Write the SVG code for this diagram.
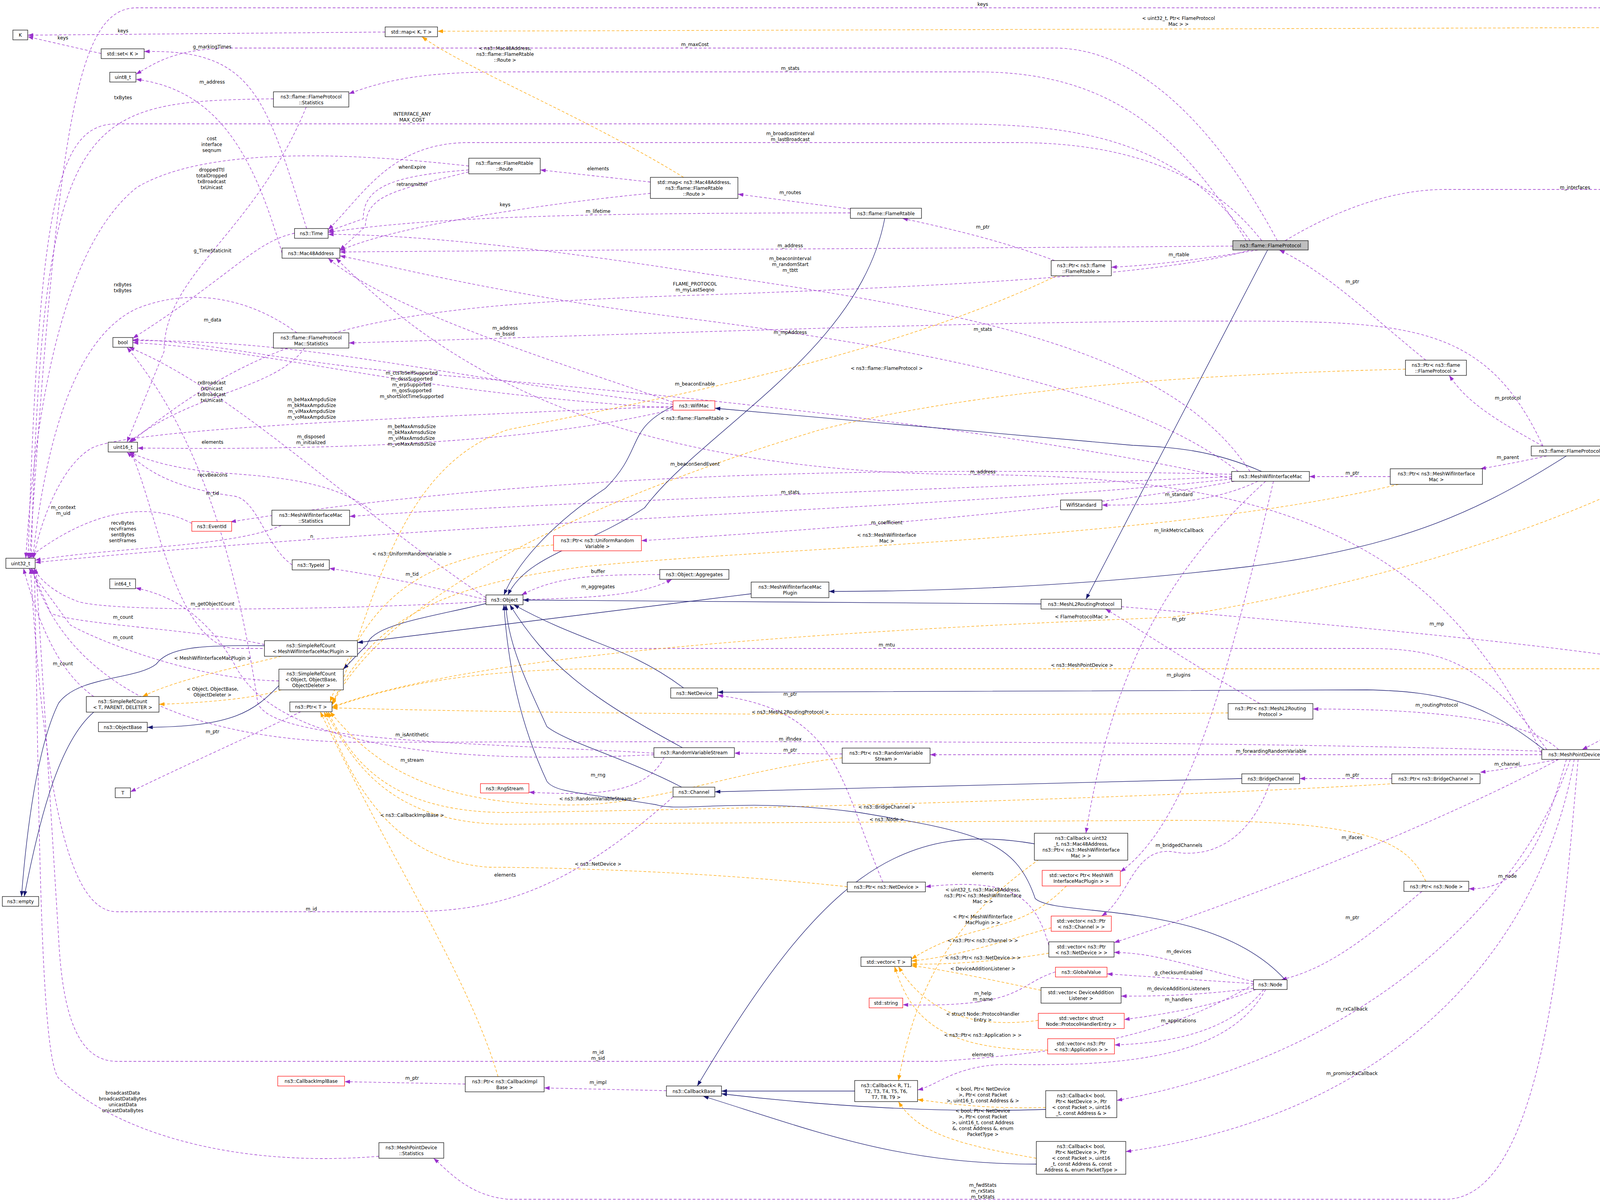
<svg xmlns="http://www.w3.org/2000/svg" width="4783" height="3077" viewBox="0 0 4783 3077">
<style>
text{font-family:"DejaVu Sans","Liberation Sans",sans-serif;font-size:12px;fill:#000}
.n rect{fill:#fff;stroke:#000;stroke-width:1.2}
.n.r rect{stroke:#ff0000}
.n text{text-anchor:middle}
.p{fill:none;stroke:#9a32cd;stroke-width:1.3;stroke-dasharray:7,5;marker-end:url(#ap)}
.o{fill:none;stroke:#ffa500;stroke-width:1.3;stroke-dasharray:7,5;marker-end:url(#ao)}
.v{fill:none;stroke:#191970;stroke-width:1.3;marker-end:url(#an)}
.l{text-anchor:middle}
</style>
<defs>
<marker id="ap" markerUnits="userSpaceOnUse" markerWidth="14" markerHeight="10" refX="14" refY="5" orient="auto"><path d="M0,0 L14,5 L0,10 z" fill="#9a32cd"/></marker>
<marker id="ao" markerUnits="userSpaceOnUse" markerWidth="14" markerHeight="10" refX="14" refY="5" orient="auto"><path d="M0,0 L14,5 L0,10 z" fill="#ffa500"/></marker>
<marker id="an" markerUnits="userSpaceOnUse" markerWidth="14" markerHeight="10" refX="14" refY="5" orient="auto"><path d="M0,0 L14,5 L0,10 z" fill="#191970"/></marker>
</defs>
<rect width="4783" height="3077" fill="#fff"/>
<g id="connectors">
<path class="p" d="M986,82 L71,90"/>
<path class="p" d="M259,137 L71,94"/>
<path class="p" d="M785,585 C680,250 650,125 369,132"/>
<path class="p" d="M722,648 C650,400 560,230 348,203"/>
<path class="p" d="M3270,616 C3100,300 2900,123 2700,123 L600,123 C450,123 400,160 348,190"/>
<path class="p" d="M700,253 C200,260 110,280 80,1429"/>
<path class="p" d="M3200,616 C3000,330 2700,317 2400,317 L300,317 C150,317 100,500 72,1429"/>
<path class="p" d="M1200,425 C800,380 500,390 350,480 C200,600 100,900 66,1429"/>
<path class="p" d="M784,274 C650,600 420,700 420,900 L325,1132"/>
<path class="p" d="M1200,435 C1000,450 930,480 930,560 L840,592"/>
<path class="p" d="M1200,440 C1000,490 940,500 935,580 L870,640"/>
<path class="p" d="M754,597 C650,620 600,700 340,866"/>
<path class="p" d="M760,852 C650,770 500,730 350,790 C200,860 120,1100 84,1429"/>
<path class="p" d="M1723,1035 C1100,960 800,870 340,872"/>
<path class="p" d="M1723,1045 C1000,1000 740,900 340,877"/>
<path class="p" d="M780,891 C700,1000 500,1000 330,1132"/>
<path class="p" d="M1723,1040 C1000,1070 300,1100 230,1150 C150,1200 100,1350 86,1429"/>
<path class="p" d="M1723,1048 C1300,1150 700,1150 352,1147"/>
<path class="p" d="M1244,1530 C900,1300 600,1000 330,889"/>
<path class="p" d="M950,1306 C850,1230 700,1220 560,1210 C450,1200 380,1180 330,1157"/>
<path class="p" d="M748,1446 C680,1400 660,1280 600,1270 C450,1250 380,1210 325,1157"/>
<path class="p" d="M491,1340 C400,1290 250,1290 72,1429"/>
<path class="p" d="M720,1345 C600,1400 300,1400 90,1434"/>
<path class="p" d="M3153,1226 C2500,1300 1200,1330 90,1440"/>
<path class="p" d="M1244,1540 C900,1560 300,1570 200,1540 C120,1510 95,1470 86,1455"/>
<path class="p" d="M677,1650 C500,1610 200,1600 130,1570 L80,1455"/>
<path class="p" d="M714,1743 C500,1740 250,1640 180,1600 L74,1455"/>
<path class="p" d="M240,1783 C150,1720 100,1600 60,1455"/>
<path class="p" d="M770,1822 C650,1880 450,1970 334,2027"/>
<path class="p" d="M1674,1928 C1200,1900 700,1900 660,1800 C600,1400 500,1100 325,889"/>
<path class="p" d="M1674,1932 C1100,1960 700,1900 600,1700 C520,1560 420,1520 347,1505"/>
<path class="p" d="M3153,1214 C2500,1200 1500,1190 590,1336"/>
<path class="p" d="M3153,1220 C2500,1250 1500,1280 895,1322"/>
<path class="p" d="M3160,1232 C2800,1300 2200,1350 1642,1384"/>
<path class="p" d="M1689,1471 C1500,1470 1420,1480 1335,1523"/>
<path class="p" d="M1339,1535 C1550,1530 1650,1520 1720,1483"/>
<path class="p" d="M3960,1919 C3800,1700 3700,1660 3500,1660 L600,1660 C450,1650 400,1300 335,1157"/>
<path class="p" d="M2260,2258 C2150,2000 2150,1820 1837,1780"/>
<path class="p" d="M3947,1923 C3000,1890 1500,1900 900,1900 C400,1890 150,1700 82,1455"/>
<path class="p" d="M2156,1930 L1880,1928"/>
<path class="p" d="M1700,1939 C1650,2040 1500,2035 1354,2028"/>
<path class="p" d="M1723,2040 C1400,2330 1200,2334 1000,2334 L300,2334 C200,2334 120,2150 78,1455"/>
<path class="p" d="M970,2960 C600,2990 300,2900 150,2760 C100,2700 100,2000 88,1455"/>
<path class="p" d="M1191,2775 L882,2769"/>
<path class="p" d="M1706,2792 L1393,2785"/>
<path class="p" d="M3209,2520 C3000,2640 2800,2690 2400,2717 L300,2717 C200,2717 160,2600 150,2400 L92,1455"/>
<path class="p" d="M3190,616 C3000,300 2800,184 2500,184 L1300,184 C1100,184 1000,200 893,240"/>
<path class="p" d="M3230,616 C3100,450 2900,365 2600,365 L1200,365 C1000,365 930,500 840,588"/>
<path class="p" d="M1665,466 L1383,435"/>
<path class="p" d="M2177,535 L1889,497"/>
<path class="p" d="M1665,495 C1400,520 1000,580 870,642"/>
<path class="p" d="M2177,545 C1500,545 1100,555 840,595"/>
<path class="p" d="M3156,630 C2500,635 1500,640 870,645"/>
<path class="p" d="M3200,1207 C3000,900 2500,800 1800,700 C1300,620 1000,600 840,600"/>
<path class="p" d="M3200,640 C3000,700 2500,730 1800,755 C1000,780 700,830 335,1132"/>
<path class="p" d="M1723,1030 C1500,950 1000,800 840,661"/>
<path class="p" d="M3170,1207 C2900,1000 2400,900 1800,820 C1300,760 1000,680 870,655"/>
<path class="p" d="M3153,1225 C2500,1080 1500,990 1000,950 C700,920 500,870 340,870"/>
<path class="p" d="M4620,190 C4500,40 4400,20 4200,20 L350,20 C200,20 150,300 76,1429"/>
<path class="p" d="M2700,667 C2600,630 2500,600 2310,559"/>
<path class="p" d="M3220,640 C3100,660 2950,680 2845,684"/>
<path class="p" d="M3650,922 C3500,800 3400,700 3275,640"/>
<path class="p" d="M3950,1142 C3800,820 3600,822 3100,822 C2500,822 1500,860 893,878"/>
<path class="p" d="M3290,616 C3500,490 3650,485 3700,485 L4350,485 C4450,485 4550,350 4655,231"/>
<path class="p" d="M4660,231 C4600,500 4450,1000 4350,1142"/>
<path class="p" d="M3950,1142 C3800,1060 3750,1020 3710,961"/>
<path class="p" d="M3220,1232 C3100,1290 2950,1293 2821,1293"/>
<path class="p" d="M3240,1232 C3000,1450 2850,1700 2780,2133"/>
<path class="p" d="M3225,1801 C3050,1700 2900,1600 2830,1559"/>
<path class="p" d="M3260,1232 C3150,1700 3050,2100 2868,2232"/>
<path class="p" d="M3947,1932 L2381,1932"/>
<path class="p" d="M3563,1993 L3327,1993"/>
<path class="p" d="M3559,1220 L3352,1220"/>
<path class="p" d="M4231,1155 L4140,1155"/>
<path class="p" d="M3960,1167 C3900,1180 3850,1190 3790,1200"/>
<path class="p" d="M2871,1553 C3300,1590 3900,1640 4250,1697"/>
<path class="p" d="M3990,1919 C3900,1830 3600,1815 3361,1815"/>
<path class="p" d="M4310,1732 C4250,1800 4150,1870 4050,1919"/>
<path class="p" d="M3990,1944 C3900,1960 3850,1970 3789,1977"/>
<path class="p" d="M3250,2006 C3200,2150 3100,2200 3000,2180 C2900,2170 2890,2300 2820,2345"/>
<path class="p" d="M3990,1944 C3700,2100 3200,2300 2852,2413"/>
<path class="p" d="M3640,2282 C3500,2400 3400,2480 3280,2508"/>
<path class="p" d="M3209,2513 C3000,2460 2950,2440 2852,2438"/>
<path class="p" d="M3209,2518 L2834,2493"/>
<path class="p" d="M3209,2530 C3050,2550 2950,2550 2870,2550"/>
<path class="p" d="M3215,2533 C3100,2580 2950,2600 2878,2610"/>
<path class="p" d="M3235,2533 C3150,2640 3000,2670 2853,2675"/>
<path class="p" d="M4020,1944 C3900,2300 3500,2700 2859,2817"/>
<path class="p" d="M4030,1944 C3950,2400 3600,2850 2882,2948"/>
<path class="p" d="M4040,1944 C4000,2400 3950,3070 3700,3070 L1300,3070 C1200,3060 1150,3000 1110,2965"/>
<path class="p" d="M4010,1944 C3950,2150 3900,2280 3760,2275"/>
<path class="p" d="M2702,2488 C2600,2520 2620,2580 2311,2572"/>
<path class="p" d="M2685,2420 C2650,2300 2600,2245 2369,2270"/>
<path class="p" d="M3240,2533 C3150,2700 2900,2730 2600,2725 C2450,2720 2400,2780 2349,2790"/>
<path class="p" d="M3947,1930 C3700,1400 3300,1220 2500,1215 C1500,1210 1100,900 860,661"/>
<path class="p" d="M1244,1535 C1100,1500 950,1470 843,1455"/>
<path class="o" d="M1750,454 C1500,300 1200,180 1080,94"/>
<path class="o" d="M4660,190 C4550,80 4450,70 4350,70 L1120,80"/>
<path class="o" d="M2705,706 C2300,900 1800,1000 1300,1100 C1000,1200 950,1600 850,1803"/>
<path class="o" d="M3598,945 C3000,960 2500,1000 2100,1100 C1600,1250 1000,1500 850,1805"/>
<path class="o" d="M1417,1395 C1100,1420 950,1500 845,1797"/>
<path class="o" d="M3580,1240 C3000,1380 2000,1400 1500,1450 C1100,1500 950,1600 850,1800"/>
<path class="o" d="M4320,1167 C4000,1350 3500,1500 3000,1580 C2000,1620 1200,1680 850,1810"/>
<path class="o" d="M4250,1712 L1500,1712 C1100,1720 950,1780 850,1810"/>
<path class="o" d="M3144,1825 C2500,1833 1500,1830 850,1812"/>
<path class="o" d="M2156,1940 C1900,1970 1700,2050 1500,2060 C1100,2070 950,1950 845,1822"/>
<path class="o" d="M3570,2006 C3000,2040 2000,2070 1300,2080 C1000,2080 900,1950 840,1822"/>
<path class="o" d="M3650,2256 C3600,2150 3500,2100 3000,2100 L1300,2110 C1000,2110 900,1950 835,1822"/>
<path class="o" d="M2169,2270 C1800,2230 1400,2220 1250,2220 C1000,2200 900,2000 830,1822"/>
<path class="o" d="M1275,2756 C1200,2500 1000,2200 820,1822"/>
<path class="o" d="M720,1680 C600,1710 450,1740 365,1783"/>
<path class="o" d="M720,1766 C650,1790 500,1800 407,1803"/>
<path class="o" d="M2730,2268 C2600,2400 2500,2350 2333,2455"/>
<path class="o" d="M2691,2375 C2600,2400 2450,2450 2333,2460"/>
<path class="o" d="M2685,2440 C2600,2455 2450,2470 2333,2468"/>
<path class="o" d="M2665,2535 C2500,2500 2400,2480 2333,2472"/>
<path class="o" d="M2658,2612 C2450,2640 2350,2560 2300,2474"/>
<path class="o" d="M2682,2688 C2400,2690 2330,2600 2290,2474"/>
<path class="o" d="M2660,2200 C2450,2350 2350,2500 2300,2766"/>
<path class="o" d="M2677,2835 C2500,2840 2400,2820 2349,2815"/>
<path class="o" d="M2653,2965 C2450,2930 2350,2900 2300,2820"/>
<path class="v" d="M2265,559 C2200,900 1800,1100 1650,1300 C1500,1400 1350,1420 1300,1523"/>
<path class="v" d="M1723,1040 C1600,1100 1650,1150 1550,1250 C1400,1350 1320,1450 1290,1523"/>
<path class="v" d="M3230,1207 C3100,1150 3000,1145 2900,1140 L1830,1045"/>
<path class="v" d="M2665,1546 L1339,1536"/>
<path class="v" d="M3245,640 L2780,1534"/>
<path class="v" d="M4010,1167 C3800,1300 3600,1400 3200,1450 C2700,1510 2300,1514 2122,1514"/>
<path class="v" d="M1923,1520 L915,1645"/>
<path class="v" d="M1244,1545 C1100,1580 950,1600 940,1650 L879,1713"/>
<path class="v" d="M714,1755 C650,1820 600,1860 377,1862"/>
<path class="v" d="M677,1653 C500,1650 430,1660 400,1700 C350,1740 200,1730 150,1800 C100,1900 70,2100 55,2295"/>
<path class="v" d="M240,1823 C150,1900 100,2100 62,2295"/>
<path class="v" d="M1750,1761 C1600,1650 1500,1650 1315,1548"/>
<path class="v" d="M3953,1919 C3800,1800 3700,1770 3500,1766 L1837,1772"/>
<path class="v" d="M1747,1914 C1500,1780 1400,1700 1305,1548"/>
<path class="v" d="M1745,2015 C1600,1940 1450,1900 1400,1860 C1350,1750 1300,1650 1295,1548"/>
<path class="v" d="M3290,2508 C3100,2300 2700,2350 2650,2300 C2600,2150 2500,2130 2200,2080 C1900,2040 1750,2080 1680,2060 C1500,2030 1420,2030 1400,2000 C1330,1850 1300,1700 1290,1548"/>
<path class="v" d="M3179,1993 L1830,2027"/>
<path class="v" d="M2648,2160 C2300,2100 2100,2250 1785,2780"/>
<path class="v" d="M2188,2793 L1847,2793"/>
<path class="v" d="M2677,2840 C2400,2850 2100,2830 1847,2800"/>
<path class="v" d="M2653,2980 C2300,2980 2100,2900 1800,2806"/>
</g>
<g id="labels">
<text class="l" x="315" y="83">keys</text>
<text class="l" x="161" y="101">keys</text>
<text class="l" x="543" y="124">g_markingTimes</text>
<text class="l" x="543" y="214">m_address</text>
<text class="l" x="1779" y="118">m_maxCost</text>
<text class="l" x="315" y="254">txBytes</text>
<text class="l" x="1055" y="296">INTERFACE_ANY<tspan x="1055" dy="15">MAX_COST</tspan></text>
<text class="l" x="542" y="359">cost<tspan x="542" dy="15">interface</tspan><tspan x="542" dy="15">seqnum</tspan></text>
<text class="l" x="542" y="439">droppedTtl<tspan x="542" dy="15">totalDropped</tspan><tspan x="542" dy="15">txBroadcast</tspan><tspan x="542" dy="15">txUnicast</tspan></text>
<text class="l" x="1055" y="432">whenExpire</text>
<text class="l" x="1055" y="476">retransmitter</text>
<text class="l" x="544" y="646">g_TimeStaticInit</text>
<text class="l" x="314" y="733">rxBytes<tspan x="314" dy="15">txBytes</tspan></text>
<text class="l" x="544" y="823">m_data</text>
<text class="l" x="1054" y="959">m_ctsToSelfSupported<tspan x="1054" dy="15">m_dsssSupported</tspan><tspan x="1054" dy="15">m_erpSupported</tspan><tspan x="1054" dy="15">m_qosSupported</tspan><tspan x="1054" dy="15">m_shortSlotTimeSupported</tspan></text>
<text class="l" x="542" y="984">rxBroadcast<tspan x="542" dy="15">rxUnicast</tspan><tspan x="542" dy="15">txBroadcast</tspan><tspan x="542" dy="15">txUnicast</tspan></text>
<text class="l" x="798" y="1027">m_beMaxAmpduSize<tspan x="798" dy="15">m_bkMaxAmpduSize</tspan><tspan x="798" dy="15">m_viMaxAmpduSize</tspan><tspan x="798" dy="15">m_voMaxAmpduSize</tspan></text>
<text class="l" x="1054" y="1096">m_beMaxAmsduSize<tspan x="1054" dy="15">m_bkMaxAmsduSize</tspan><tspan x="1054" dy="15">m_viMaxAmsduSize</tspan><tspan x="1054" dy="15">m_voMaxAmsduSize</tspan></text>
<text class="l" x="796" y="1122">m_disposed<tspan x="796" dy="15">m_initialized</tspan></text>
<text class="l" x="544" y="1136">elements</text>
<text class="l" x="544" y="1220">recvBeacons</text>
<text class="l" x="544" y="1267">m_tid</text>
<text class="l" x="162" y="1303">m_context<tspan x="162" dy="15">m_uid</tspan></text>
<text class="l" x="314" y="1343">recvBytes<tspan x="314" dy="15">recvFrames</tspan><tspan x="314" dy="15">sentBytes</tspan><tspan x="314" dy="15">sentFrames</tspan></text>
<text class="l" x="798" y="1377">n</text>
<text class="l" x="1055" y="1422">&lt; ns3::UniformRandomVariable &gt;</text>
<text class="l" x="1055" y="1474">m_tid</text>
<text class="l" x="544" y="1550">m_getObjectCount</text>
<text class="l" x="315" y="1584">m_count</text>
<text class="l" x="315" y="1636">m_count</text>
<text class="l" x="161" y="1703">m_count</text>
<text class="l" x="544" y="1689">&lt; MeshWifiInterfaceMacPlugin &gt;</text>
<text class="l" x="544" y="1768">&lt; Object, ObjectBase,<tspan x="544" dy="15">ObjectDeleter &gt;</tspan></text>
<text class="l" x="544" y="1877">m_ptr</text>
<text class="l" x="1055" y="1885">m_isAntithetic</text>
<text class="l" x="1055" y="1950">m_stream</text>
<text class="l" x="1779" y="1075">&lt; ns3::flame::FlameRtable &gt;</text>
<text class="l" x="1779" y="1192">m_beaconSendEvent</text>
<text class="l" x="2023" y="1264">m_stats</text>
<text class="l" x="2270" y="1342">m_coefficient</text>
<text class="l" x="2270" y="1374">&lt; ns3::MeshWifiInterface<tspan x="2270" dy="15">Mac &gt;</tspan></text>
<text class="l" x="1531" y="1467">buffer</text>
<text class="l" x="1531" y="1506">m_aggregates</text>
<text class="l" x="2270" y="1655">m_mtu</text>
<text class="l" x="2023" y="1781">m_ptr</text>
<text class="l" x="2023" y="1827">&lt; ns3::MeshL2RoutingProtocol &gt;</text>
<text class="l" x="2023" y="1896">m_ifIndex</text>
<text class="l" x="2023" y="1924">m_ptr</text>
<text class="l" x="1531" y="1988">m_rng</text>
<text class="l" x="1531" y="2049">&lt; ns3::RandomVariableStream &gt;</text>
<text class="l" x="1293" y="128">&lt; ns3::Mac48Address,<tspan x="1293" dy="15">ns3::flame::FlameRtable</tspan><tspan x="1293" dy="15">::Route &gt;</tspan></text>
<text class="l" x="2023" y="179">m_stats</text>
<text class="l" x="2023" y="346">m_broadcastInterval<tspan x="2023" dy="15">m_lastBroadcast</tspan></text>
<text class="l" x="1531" y="436">elements</text>
<text class="l" x="2023" y="497">m_routes</text>
<text class="l" x="1293" y="528">keys</text>
<text class="l" x="1531" y="545">m_lifetime</text>
<text class="l" x="2023" y="633">m_address</text>
<text class="l" x="2023" y="666">m_beaconInterval<tspan x="2023" dy="15">m_randomStart</tspan><tspan x="2023" dy="15">m_tbtt</tspan></text>
<text class="l" x="1779" y="731">FLAME_PROTOCOL<tspan x="1779" dy="15">m_myLastSeqno</tspan></text>
<text class="l" x="1293" y="844">m_address<tspan x="1293" dy="15">m_bssid</tspan></text>
<text class="l" x="2023" y="855">m_mpAddress</text>
<text class="l" x="2270" y="947">&lt; ns3::flame::FlameProtocol &gt;</text>
<text class="l" x="1779" y="987">m_beaconEnable</text>
<text class="l" x="2516" y="15">keys</text>
<text class="l" x="3017" y="51">&lt; uint32_t, Ptr&lt; FlameProtocol<tspan x="3017" dy="15">Mac &gt; &gt;</tspan></text>
<text class="l" x="2516" y="585">m_ptr</text>
<text class="l" x="3018" y="656">m_rtable</text>
<text class="l" x="3462" y="725">m_ptr</text>
<text class="l" x="2516" y="847">m_stats</text>
<text class="l" x="4032" y="484">m_interfaces</text>
<text class="l" x="4511" y="595">elements</text>
<text class="l" x="3860" y="1023">m_protocol</text>
<text class="l" x="2516" y="1212">m_address</text>
<text class="l" x="3018" y="1270">m_standard</text>
<text class="l" x="3018" y="1362">m_linkMetricCallback</text>
<text class="l" x="2769" y="1583">&lt; FlameProtocolMac &gt;</text>
<text class="l" x="3018" y="1589">m_ptr</text>
<text class="l" x="2770" y="1707">&lt; ns3::MeshPointDevice &gt;</text>
<text class="l" x="3017" y="1732">m_plugins</text>
<text class="l" x="3254" y="1927">m_forwardingRandomVariable</text>
<text class="l" x="3462" y="1988">m_ptr</text>
<text class="l" x="3462" y="1215">m_ptr</text>
<text class="l" x="4187" y="1151">m_ptr</text>
<text class="l" x="3860" y="1175">m_parent</text>
<text class="l" x="3678" y="1601">m_mp</text>
<text class="l" x="3678" y="1809">m_routingProtocol</text>
<text class="l" x="4187" y="1804">m_ptr</text>
<text class="l" x="3858" y="1960">m_channel</text>
<text class="l" x="1055" y="2091">&lt; ns3::CallbackImplBase &gt;</text>
<text class="l" x="797" y="2331">m_id</text>
<text class="l" x="1055" y="2764">m_ptr</text>
<text class="l" x="314" y="2802">broadcastData<tspan x="314" dy="15">broadcastDataBytes</tspan><tspan x="314" dy="15">unicastData</tspan><tspan x="314" dy="15">unicastDataBytes</tspan></text>
<text class="l" x="2270" y="2070">&lt; ns3::BridgeChannel &gt;</text>
<text class="l" x="2270" y="2102">&lt; ns3::Node &gt;</text>
<text class="l" x="1531" y="2216">&lt; ns3::NetDevice &gt;</text>
<text class="l" x="1293" y="2244">elements</text>
<text class="l" x="1531" y="2698">m_id<tspan x="1531" dy="15">m_sid</tspan></text>
<text class="l" x="1531" y="2775">m_impl</text>
<text class="l" x="2516" y="2240">elements</text>
<text class="l" x="2516" y="2282">&lt; uint32_t, ns3::Mac48Address,<tspan x="2516" dy="15">ns3::Ptr&lt; ns3::MeshWifiInterface</tspan><tspan x="2516" dy="15">Mac &gt; &gt;</tspan></text>
<text class="l" x="3018" y="2168">m_bridgedChannels</text>
<text class="l" x="2516" y="2351">&lt; Ptr&lt; MeshWifiInterface<tspan x="2516" dy="15">MacPlugin &gt; &gt;</tspan></text>
<text class="l" x="3461" y="2148">m_ifaces</text>
<text class="l" x="2516" y="2412">&lt; ns3::Ptr&lt; ns3::Channel &gt; &gt;</text>
<text class="l" x="3462" y="2353">m_ptr</text>
<text class="l" x="2516" y="2456">&lt; ns3::Ptr&lt; ns3::NetDevice &gt; &gt;</text>
<text class="l" x="3018" y="2440">m_devices</text>
<text class="l" x="2516" y="2484">&lt; DeviceAdditionListener &gt;</text>
<text class="l" x="3017" y="2494">g_checksumEnabled</text>
<text class="l" x="3017" y="2535">m_deviceAdditionListeners</text>
<text class="l" x="2516" y="2547">m_help<tspan x="2516" dy="15">m_name</tspan></text>
<text class="l" x="3017" y="2563">m_handlers</text>
<text class="l" x="3461" y="2587">m_rxCallback</text>
<text class="l" x="2516" y="2600">&lt; struct Node::ProtocolHandler<tspan x="2516" dy="15">Entry &gt;</tspan></text>
<text class="l" x="3017" y="2617">m_applications</text>
<text class="l" x="2516" y="2654">&lt; ns3::Ptr&lt; ns3::Application &gt; &gt;</text>
<text class="l" x="2516" y="2704">elements</text>
<text class="l" x="2516" y="2792">&lt; bool, Ptr&lt; NetDevice<tspan x="2516" dy="15">&gt;, Ptr&lt; const Packet</tspan><tspan x="2516" dy="15">&gt;, uint16_t, const Address &amp; &gt;</tspan></text>
<text class="l" x="2516" y="2848">&lt; bool, Ptr&lt; NetDevice<tspan x="2516" dy="15">&gt;, Ptr&lt; const Packet</tspan><tspan x="2516" dy="15">&gt;, uint16_t, const Address</tspan><tspan x="2516" dy="15">&amp;, const Address &amp;, enum</tspan><tspan x="2516" dy="15">PacketType &gt;</tspan></text>
<text class="l" x="3461" y="2752">m_promiscRxCallback</text>
<text class="l" x="2516" y="3038">m_fwdStats<tspan x="2516" dy="15">m_rxStats</tspan><tspan x="2516" dy="15">m_txStats</tspan></text>
<text class="l" x="3859" y="2247">m_node</text>
</g>
<g id="K" class="n"><rect x="33" y="77" width="38" height="25"/><text x="52" y="94">K</text></g>
<g id="set" class="n"><rect x="259" y="125" width="110" height="25"/><text x="314" y="142">std::set&lt; K &gt;</text></g>
<g id="uint8" class="n"><rect x="281" y="185" width="67" height="25"/><text x="314.5" y="202">uint8_t</text></g>
<g id="mapKT" class="n"><rect x="986" y="69" width="134" height="25"/><text x="1053" y="86">std::map&lt; K, T &gt;</text></g>
<g id="FPStats" class="n"><rect x="700" y="235" width="193" height="39"/><text x="796.5" y="251.5">ns3::flame::FlameProtocol<tspan x="796.5" dy="15">::Statistics</tspan></text></g>
<g id="Time" class="n"><rect x="754" y="585" width="86" height="25"/><text x="797" y="602">ns3::Time</text></g>
<g id="Mac48" class="n"><rect x="722" y="635" width="148" height="26"/><text x="796" y="652.5">ns3::Mac48Address</text></g>
<g id="bool" class="n"><rect x="289" y="864" width="51" height="25"/><text x="314.5" y="881">bool</text></g>
<g id="FPMStats" class="n"><rect x="700" y="852" width="193" height="39"/><text x="796.5" y="868.5">ns3::flame::FlameProtocol<tspan x="796.5" dy="15">Mac::Statistics</tspan></text></g>
<g id="Route" class="n"><rect x="1200" y="405" width="183" height="40"/><text x="1291.5" y="422">ns3::flame::FlameRtable<tspan x="1291.5" dy="15">::Route</tspan></text></g>
<g id="mapRoute" class="n"><rect x="1665" y="454" width="224" height="54"/><text x="1777" y="470.5">std::map&lt; ns3::Mac48Address,<tspan x="1777" dy="15">ns3::flame::FlameRtable</tspan><tspan x="1777" dy="15">::Route &gt;</tspan></text></g>
<g id="FlameRtable" class="n"><rect x="2177" y="533" width="182" height="26"/><text x="2268" y="550.5">ns3::flame::FlameRtable</text></g>
<g id="FlameProtocol" class="n"><rect x="3156" y="616" width="193" height="24" style="fill:#bfbfbf"/><text x="3252.5" y="632.5">ns3::flame::FlameProtocol</text></g>
<g id="PtrFR" class="n"><rect x="2691" y="667" width="154" height="39"/><text x="2768" y="683.5">ns3::Ptr&lt; ns3::flame<tspan x="2768" dy="15">::FlameRtable &gt;</tspan></text></g>
<g id="PtrFP" class="n"><rect x="3598" y="922" width="156" height="39"/><text x="3676" y="938.5">ns3::Ptr&lt; ns3::flame<tspan x="3676" dy="15">::FlameProtocol &gt;</tspan></text></g>
<g id="mapU" class="n"><rect x="4566" y="190" width="211" height="41"/><text x="4671.5" y="207.5">std::map&lt; uint32_t,<tspan x="4671.5" dy="15">Ptr&lt; FlameProtocolMac &gt; &gt;</tspan></text></g>
<g id="WifiMac" class="n r"><rect x="1723" y="1026" width="107" height="24"/><text x="1776.5" y="1042.5">ns3::WifiMac</text></g>
<g id="uint16" class="n"><rect x="277" y="1132" width="75" height="25"/><text x="314.5" y="1149">uint16_t</text></g>
<g id="EventId" class="n r"><rect x="491" y="1335" width="102" height="25"/><text x="542" y="1352">ns3::EventId</text></g>
<g id="MWIMStats" class="n"><rect x="696" y="1306" width="199" height="39"/><text x="795.5" y="1322.5">ns3::MeshWifiInterfaceMac<tspan x="795.5" dy="15">::Statistics</tspan></text></g>
<g id="uint32" class="n"><rect x="15" y="1429" width="75" height="26"/><text x="52.5" y="1446.5">uint32_t</text></g>
<g id="TypeId" class="n"><rect x="748" y="1433" width="95" height="26"/><text x="795.5" y="1450.5">ns3::TypeId</text></g>
<g id="int64" class="n"><rect x="281" y="1482" width="66" height="25"/><text x="314" y="1499">int64_t</text></g>
<g id="SRC_MWIMP" class="n"><rect x="677" y="1640" width="238" height="40"/><text x="796" y="1657">ns3::SimpleRefCount<tspan x="796" dy="15">&lt; MeshWifiInterfaceMacPlugin &gt;</tspan></text></g>
<g id="SRC_Obj" class="n"><rect x="714" y="1713" width="165" height="53"/><text x="796.5" y="1729">ns3::SimpleRefCount<tspan x="796.5" dy="15">&lt; Object, ObjectBase,</tspan><tspan x="796.5" dy="15">ObjectDeleter &gt;</tspan></text></g>
<g id="SRC_T" class="n"><rect x="221" y="1783" width="186" height="40"/><text x="314" y="1800">ns3::SimpleRefCount<tspan x="314" dy="15">&lt; T, PARENT, DELETER &gt;</tspan></text></g>
<g id="PtrT" class="n"><rect x="742" y="1797" width="108" height="25"/><text x="796" y="1814">ns3::Ptr&lt; T &gt;</text></g>
<g id="ObjectBase" class="n"><rect x="252" y="1849" width="125" height="24"/><text x="314.5" y="1865.5">ns3::ObjectBase</text></g>
<g id="T" class="n"><rect x="295" y="2017" width="39" height="25"/><text x="314.5" y="2034">T</text></g>
<g id="PtrURV" class="n r"><rect x="1417" y="1371" width="225" height="39"/><text x="1529.5" y="1387.5">ns3::Ptr&lt; ns3::UniformRandom<tspan x="1529.5" dy="15">Variable &gt;</tspan></text></g>
<g id="Aggregates" class="n"><rect x="1689" y="1458" width="177" height="25"/><text x="1777.5" y="1475">ns3::Object::Aggregates</text></g>
<g id="Object" class="n"><rect x="1244" y="1523" width="95" height="25"/><text x="1291.5" y="1540">ns3::Object</text></g>
<g id="MWIMP" class="n"><rect x="1923" y="1490" width="199" height="40"/><text x="2022.5" y="1507">ns3::MeshWifiInterfaceMac<tspan x="2022.5" dy="15">Plugin</tspan></text></g>
<g id="NetDevice" class="n"><rect x="1717" y="1761" width="120" height="26"/><text x="1777" y="1778.5">ns3::NetDevice</text></g>
<g id="RVS" class="n"><rect x="1674" y="1914" width="206" height="25"/><text x="1777" y="1931">ns3::RandomVariableStream</text></g>
<g id="PtrRVS" class="n"><rect x="2156" y="1915" width="225" height="39"/><text x="2268.5" y="1931.5">ns3::Ptr&lt; ns3::RandomVariable<tspan x="2268.5" dy="15">Stream &gt;</tspan></text></g>
<g id="RngStream" class="n r"><rect x="1230" y="2006" width="124" height="24"/><text x="1292" y="2022.5">ns3::RngStream</text></g>
<g id="Channel" class="n"><rect x="1723" y="2015" width="107" height="25"/><text x="1776.5" y="2032">ns3::Channel</text></g>
<g id="MWIM" class="n"><rect x="3153" y="1207" width="199" height="25"/><text x="3252.5" y="1224">ns3::MeshWifiInterfaceMac</text></g>
<g id="WifiStandard" class="n"><rect x="2715" y="1280" width="106" height="25"/><text x="2768" y="1297">WifiStandard</text></g>
<g id="ML2RP" class="n"><rect x="2665" y="1534" width="206" height="25"/><text x="2768" y="1551">ns3::MeshL2RoutingProtocol</text></g>
<g id="PtrML2RP" class="n"><rect x="3144" y="1801" width="217" height="40"/><text x="3252.5" y="1818">ns3::Ptr&lt; ns3::MeshL2Routing<tspan x="3252.5" dy="15">Protocol &gt;</tspan></text></g>
<g id="BridgeChannel" class="n"><rect x="3179" y="1981" width="148" height="25"/><text x="3253" y="1998">ns3::BridgeChannel</text></g>
<g id="PtrMWIM" class="n"><rect x="3559" y="1200" width="236" height="40"/><text x="3677" y="1217">ns3::Ptr&lt; ns3::MeshWifiInterface<tspan x="3677" dy="15">Mac &gt;</tspan></text></g>
<g id="FPM" class="n"><rect x="3920" y="1142" width="220" height="25"/><text x="4030" y="1159">ns3::flame::FlameProtocolMac</text></g>
<g id="PtrFPM" class="n"><rect x="4231" y="1142" width="222" height="25"/><text x="4342" y="1159">ns3::Ptr&lt; FlameProtocolMac &gt;</text></g>
<g id="PtrMPD" class="n"><rect x="4250" y="1691" width="184" height="41"/><text x="4342" y="1708">ns3::Ptr&lt; ns3::MeshPoint<tspan x="4342" dy="15">Device &gt;</tspan></text></g>
<g id="MPD" class="n"><rect x="3947" y="1919" width="166" height="25"/><text x="4030" y="1936">ns3::MeshPointDevice</text></g>
<g id="PtrBC" class="n"><rect x="3563" y="1981" width="226" height="25"/><text x="3676" y="1998">ns3::Ptr&lt; ns3::BridgeChannel &gt;</text></g>
<g id="empty" class="n"><rect x="6" y="2295" width="93" height="25"/><text x="52.5" y="2312">ns3::empty</text></g>
<g id="CIB" class="n r"><rect x="711" y="2755" width="171" height="25"/><text x="796.5" y="2772">ns3::CallbackImplBase</text></g>
<g id="MPDStats" class="n"><rect x="970" y="2925" width="166" height="40"/><text x="1053" y="2942">ns3::MeshPointDevice<tspan x="1053" dy="15">::Statistics</tspan></text></g>
<g id="PtrCIB" class="n"><rect x="1191" y="2756" width="202" height="39"/><text x="1292" y="2772.5">ns3::Ptr&lt; ns3::CallbackImpl<tspan x="1292" dy="15">Base &gt;</tspan></text></g>
<g id="PtrND" class="n"><rect x="2169" y="2258" width="200" height="25"/><text x="2269" y="2275">ns3::Ptr&lt; ns3::NetDevice &gt;</text></g>
<g id="vecT" class="n"><rect x="2204" y="2450" width="129" height="24"/><text x="2268.5" y="2466.5">std::vector&lt; T &gt;</text></g>
<g id="string" class="n r"><rect x="2225" y="2555" width="86" height="25"/><text x="2268" y="2572">std::string</text></g>
<g id="CallbackBase" class="n"><rect x="1706" y="2780" width="141" height="26"/><text x="1776.5" y="2797.5">ns3::CallbackBase</text></g>
<g id="CallbackR" class="n"><rect x="2188" y="2766" width="161" height="54"/><text x="2268.5" y="2782.5">ns3::Callback&lt; R, T1,<tspan x="2268.5" dy="15">T2, T3, T4, T5, T6,</tspan><tspan x="2268.5" dy="15">T7, T8, T9 &gt;</tspan></text></g>
<g id="CbU32" class="n"><rect x="2648" y="2133" width="239" height="69"/><text x="2767.5" y="2149.5">ns3::Callback&lt; uint32<tspan x="2767.5" dy="15">_t, ns3::Mac48Address,</tspan><tspan x="2767.5" dy="15">ns3::Ptr&lt; ns3::MeshWifiInterface</tspan><tspan x="2767.5" dy="15">Mac &gt; &gt;</tspan></text></g>
<g id="vecPMWIMP" class="n r"><rect x="2668" y="2228" width="200" height="40"/><text x="2768" y="2245">std::vector&lt; Ptr&lt; MeshWifi<tspan x="2768" dy="15">InterfaceMacPlugin &gt; &gt;</tspan></text></g>
<g id="vecPCh" class="n r"><rect x="2691" y="2345" width="154" height="39"/><text x="2768" y="2361.5">std::vector&lt; ns3::Ptr<tspan x="2768" dy="15">&lt; ns3::Channel &gt; &gt;</tspan></text></g>
<g id="vecPND" class="n"><rect x="2685" y="2411" width="167" height="39"/><text x="2768.5" y="2427.5">std::vector&lt; ns3::Ptr<tspan x="2768.5" dy="15">&lt; ns3::NetDevice &gt; &gt;</tspan></text></g>
<g id="GlobalValue" class="n r"><rect x="2702" y="2476" width="132" height="25"/><text x="2768" y="2493">ns3::GlobalValue</text></g>
<g id="vecDAL" class="n"><rect x="2665" y="2528" width="205" height="40"/><text x="2767.5" y="2545">std::vector&lt; DeviceAddition<tspan x="2767.5" dy="15">Listener &gt;</tspan></text></g>
<g id="vecPHE" class="n r"><rect x="2658" y="2594" width="220" height="39"/><text x="2768" y="2610.5">std::vector&lt; struct<tspan x="2768" dy="15">Node::ProtocolHandlerEntry &gt;</tspan></text></g>
<g id="vecPApp" class="n r"><rect x="2682" y="2659" width="171" height="39"/><text x="2767.5" y="2675.5">std::vector&lt; ns3::Ptr<tspan x="2767.5" dy="15">&lt; ns3::Application &gt; &gt;</tspan></text></g>
<g id="Node" class="n"><rect x="3209" y="2508" width="86" height="25"/><text x="3252" y="2525">ns3::Node</text></g>
<g id="CbB4" class="n"><rect x="2677" y="2792" width="182" height="69"/><text x="2768" y="2808.5">ns3::Callback&lt; bool,<tspan x="2768" dy="15">Ptr&lt; NetDevice &gt;, Ptr</tspan><tspan x="2768" dy="15">&lt; const Packet &gt;, uint16</tspan><tspan x="2768" dy="15">_t, const Address &amp; &gt;</tspan></text></g>
<g id="CbB7" class="n"><rect x="2653" y="2922" width="229" height="84"/><text x="2767.5" y="2938.5">ns3::Callback&lt; bool,<tspan x="2767.5" dy="15">Ptr&lt; NetDevice &gt;, Ptr</tspan><tspan x="2767.5" dy="15">&lt; const Packet &gt;, uint16</tspan><tspan x="2767.5" dy="15">_t, const Address &amp;, const</tspan><tspan x="2767.5" dy="15">Address &amp;, enum PacketType &gt;</tspan></text></g>
<g id="PtrNode" class="n"><rect x="3594" y="2256" width="166" height="26"/><text x="3677" y="2273.5">ns3::Ptr&lt; ns3::Node &gt;</text></g>
</svg>
